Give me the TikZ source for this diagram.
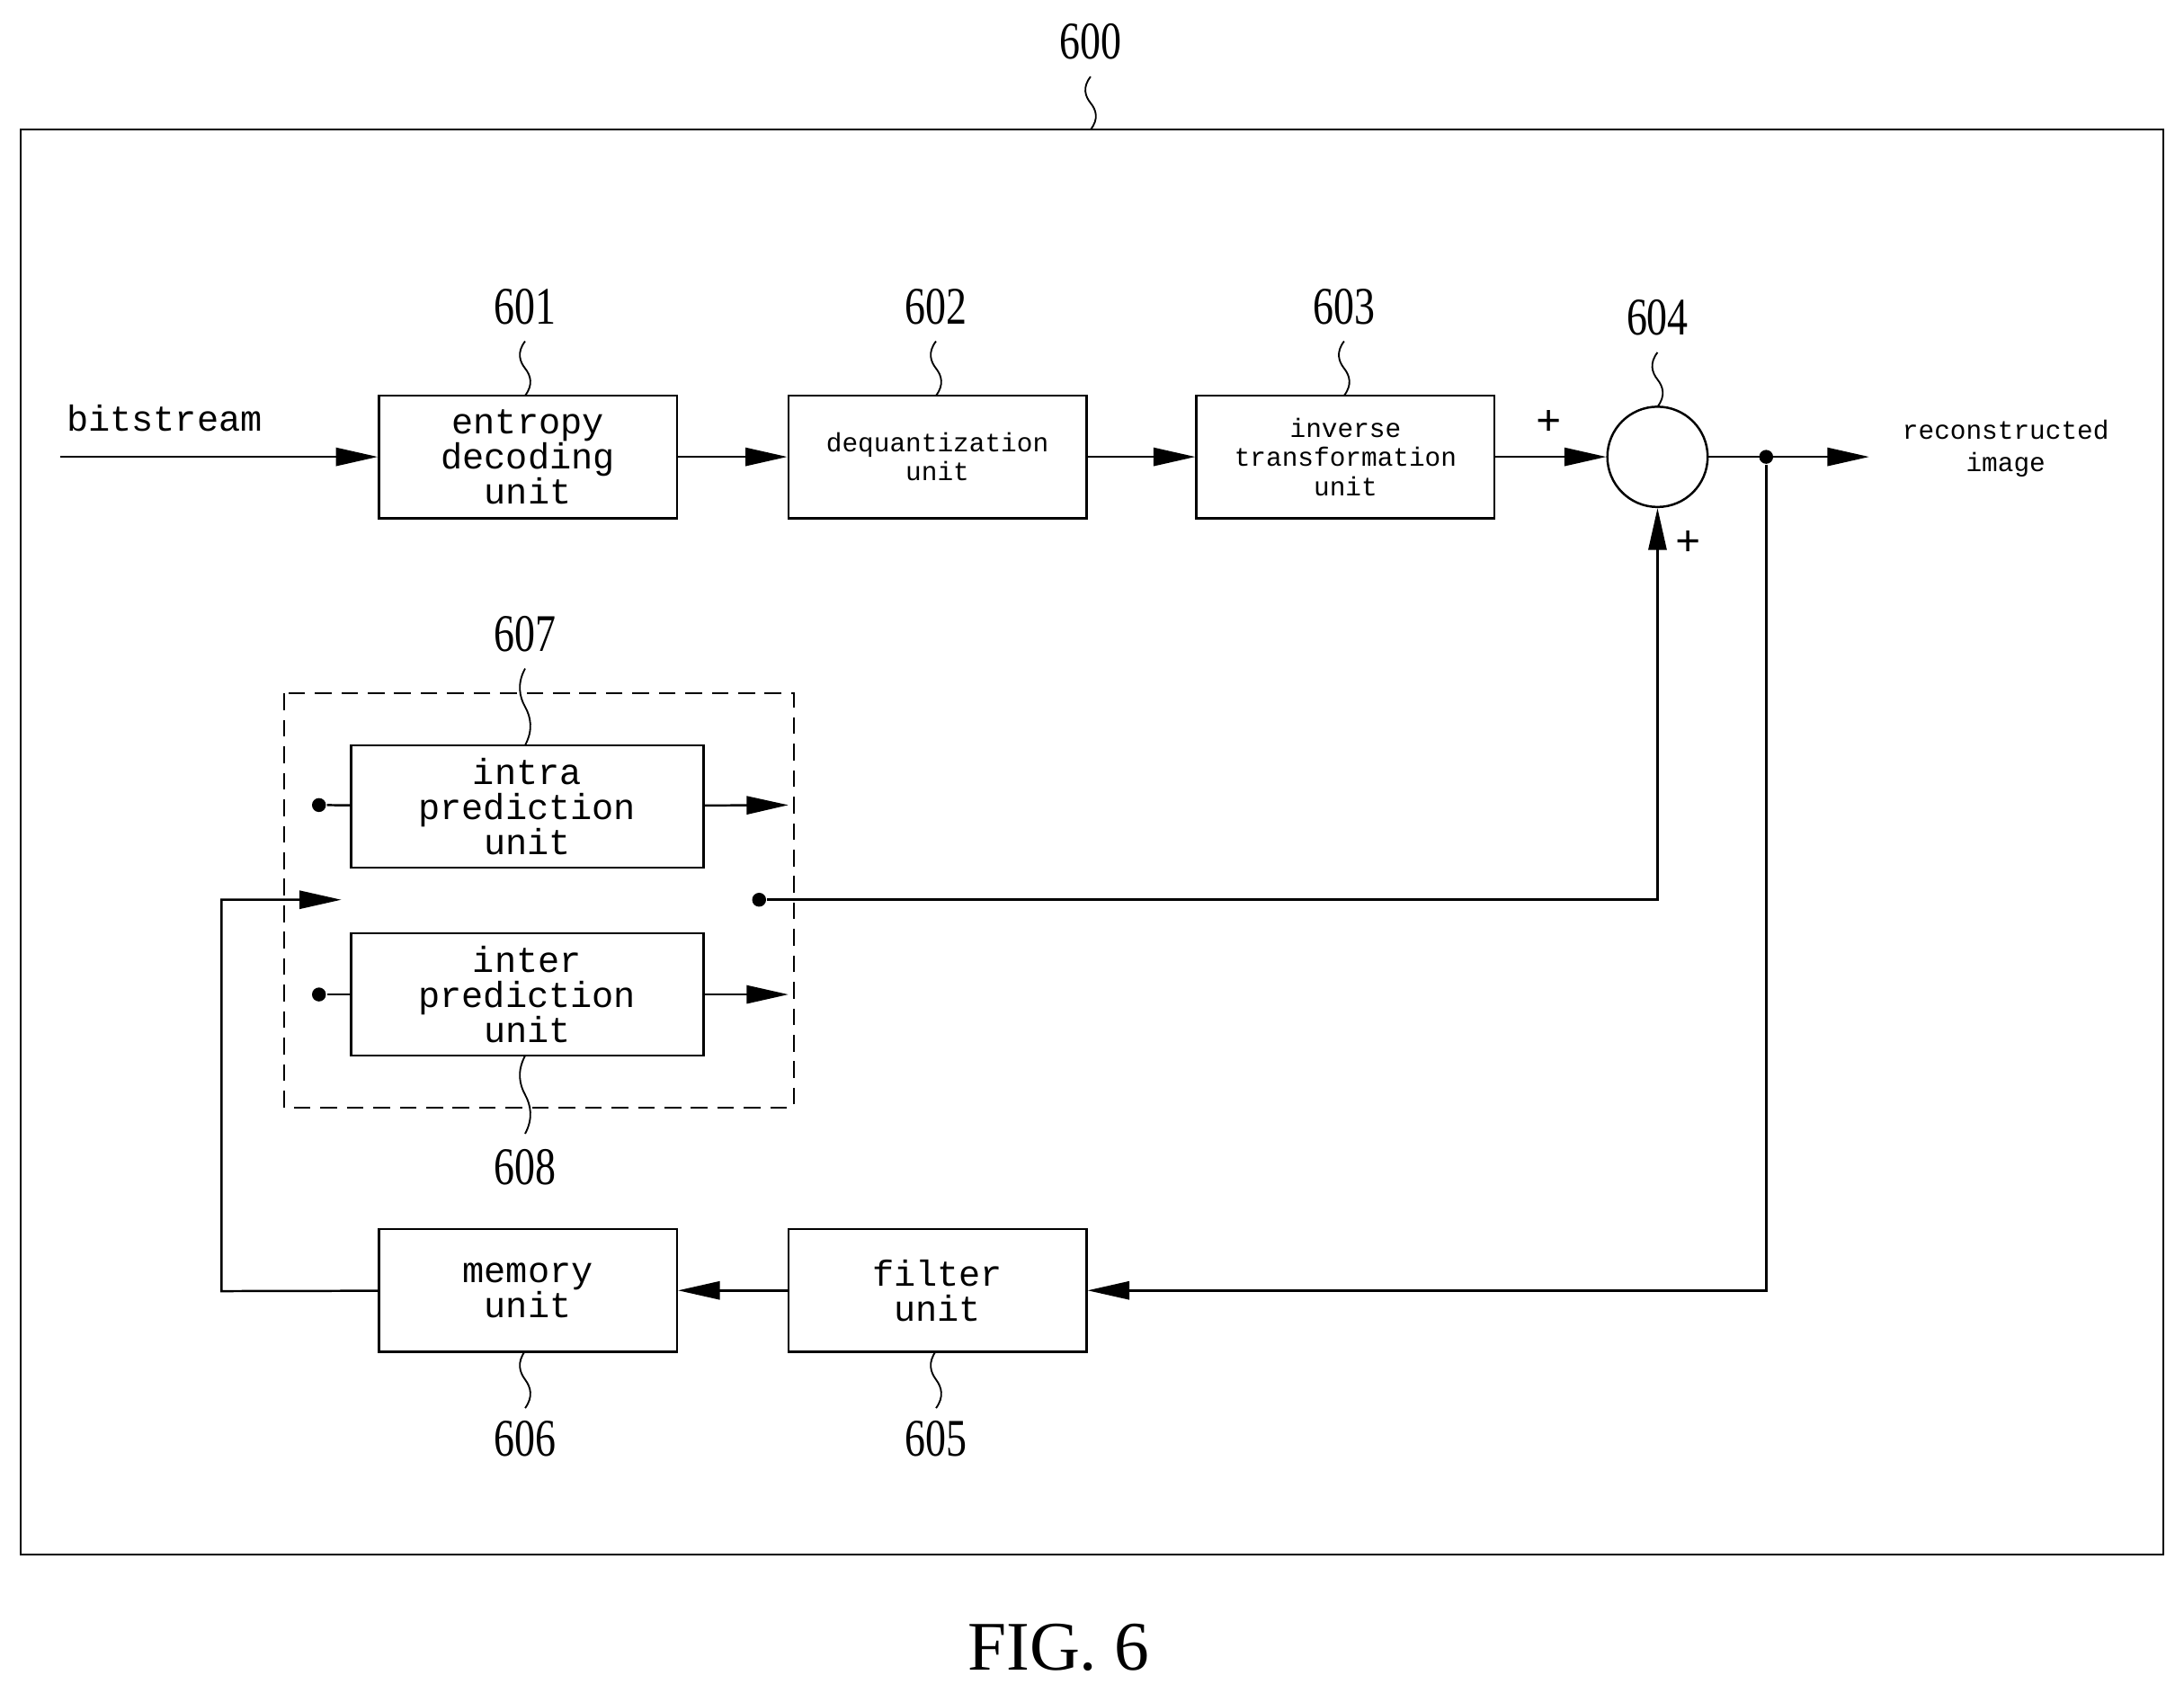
\documentclass[tikz,border=0pt]{standalone}
\usepackage{fontspec}
\setmainfont{Liberation Serif}
\setmonofont{Liberation Mono}
\usetikzlibrary{arrows.meta}
\begin{document}
\begin{tikzpicture}[x=1pt,y=-1pt,line width=1.6pt,
  box/.style={draw,rectangle,minimum width=214pt,minimum height=88pt,font=\ttfamily\fontsize{26}{25}\selectfont,align=center,inner sep=0pt},
  sbox/.style={box,font=\ttfamily\fontsize{19}{21}\selectfont},
  num/.style={font=\fontsize{38}{38}\selectfont,xscale=0.78},
  arr/.style={-{Triangle[length=30pt,width=13pt]}},
  dot/.style={circle,fill,inner sep=0pt,minimum size=10pt}]
\useasboundingbox (0,0) rectangle (1568,1215);
\newcommand{\squig}[3]{\draw[line width=1.2pt] (#1,#2) .. controls (#1-6,#2+0.2*#3) and (#1-4,#2+0.37*#3) .. (#1,#2+0.5*#3) .. controls (#1+4,#2+0.63*#3) and (#1+6,#2+0.8*#3) .. (#1,#2+#3);}
\draw (15,93) rectangle (1553,1116);
\node[num] (l600) at (783,30) {600}; \squig{783}{55}{38}
\node[box] (b601) at (379,328) {entropy\\decoding\\unit};
\node[sbox] (b602) at (673,328) {dequantization\\unit};
\node[sbox] (b603) at (966,328) {inverse\\transformation\\unit};
\node[draw,circle,minimum size=72pt,inner sep=0pt] (c604) at (1190,328) {};
\node[num] at (377,220) {601}; \squig{377}{245}{39}
\node[num] at (672,220) {602}; \squig{672}{245}{39}
\node[num] at (965,220) {603}; \squig{965}{245}{39}
\node[num] at (1190,228) {604}; \squig{1190}{253}{39}
\node[font=\ttfamily\fontsize{26}{26}\selectfont] (bs) at (118,300) {bitstream};
\coordinate (bsin) at (43,328);
\draw[arr] (bsin) -- (b601);
\draw[arr] (b601) -- (b602);
\draw[arr] (b602) -- (b603);
\draw[arr] (b603) -- (c604);
\node[font=\bfseries\fontsize{32}{32}\selectfont] at (1112,304) {+};
\node[font=\bfseries\fontsize{32}{32}\selectfont] at (1212,390) {+};
\node[font=\ttfamily\fontsize{19}{23}\selectfont,align=center] (out) at (1440,322) {reconstructed\\image};
\node[dot] (d1) at (1268,328) {};
\coordinate (oend) at (1342,328);
\draw[arr] (c604) -- (oend);
% prediction block
\draw[dashed,line width=1.3pt,dash pattern=on 12pt off 7pt] (204,498) rectangle (570,795);
\node[box,minimum width=253pt] (b607) at (378.5,579) {intra\\prediction\\unit};
\node[box,minimum width=253pt] (b608) at (378.5,714) {inter\\prediction\\unit};
\node[num] at (377,455) {607}; \squig{377}{480}{55}
\node[num] at (377,838) {608}; \squig{377}{758}{56}
\node[dot] (d2) at (229,578) {}; \node[dot] (d3) at (229,714) {};
\draw (d2) -- (b607); \draw (d3) -- (b608);
\coordinate (a1) at (566,578); \coordinate (a2) at (566,714);
\draw[arr] (b607) -- (a1); \draw[arr] (b608) -- (a2);
\node[dot] (d4) at (545,646) {};
\draw[arr] (d4) -| (c604);
% feedback
\node[box] (b605) at (673,926.5) {filter\\unit};
\node[box] (b606) at (379,926.5) {memory\\unit};
\node[num] at (672,1033) {605}; \squig{672}{970}{41}
\node[num] at (377,1033) {606}; \squig{377}{970}{41}
\draw[arr] (d1) |- (b605);
\draw[arr] (b605) -- (b606);
\coordinate (m1) at (159,927); \coordinate (m2) at (159,646); \coordinate (m3) at (245,646);
\draw[arr] (b606) -- (m1) -- (m2) -- (m3);
\node[font=\fontsize{50}{50}\selectfont] at (760,1183) {FIG. 6};
\end{tikzpicture}
\end{document}
